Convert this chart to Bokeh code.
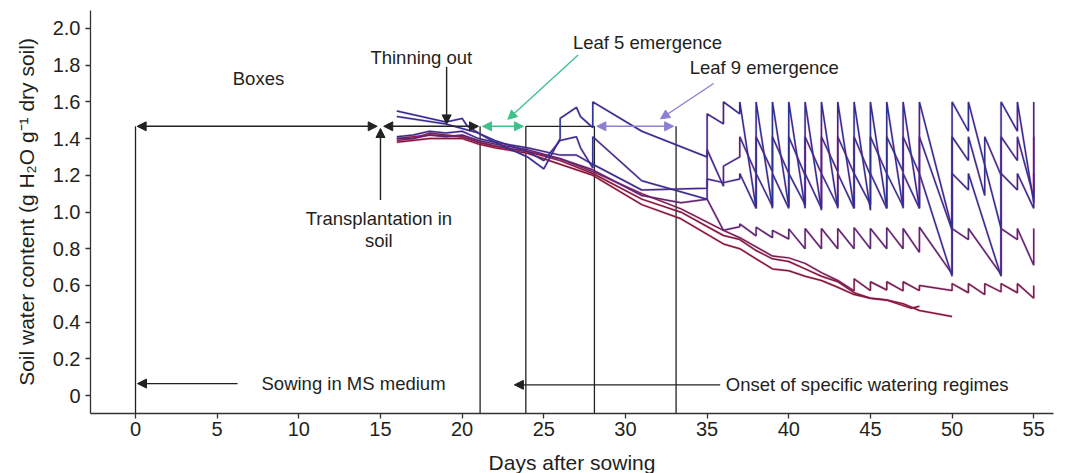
from bokeh.plotting import figure
from bokeh.models import Arrow, NormalHead, Label, FixedTicker, Range1d
from bokeh.embed import file_html
from bokeh.resources import INLINE

# ---------------- data ----------------
x_ticks = [0, 5, 10, 15, 20, 25, 30, 35, 40, 45, 50, 55]
y_ticks = [0, 0.2, 0.4, 0.6, 0.8, 1.0, 1.2, 1.4, 1.6, 1.8, 2.0]
y_tick_labels = ["0", "0.2", "0.4", "0.6", "0.8", "1.0", "1.2", "1.4", "1.6", "1.8", "2.0"]

s1_day = [16, 19, 20, 20.3, 21, 22, 24, 25, 26, 26, 27, 27.25, 28, 28, 31, 35, 35, 36, 36, 37, 37,
          38, 38, 39, 39, 40, 40, 41, 41, 42, 42, 43, 43, 44, 44, 45, 45, 46, 46, 47, 47, 48, 48,
          50, 50, 51, 51, 53, 53, 54, 54, 55, 55]
s1_swc = [1.55, 1.49, 1.51, 1.47, 1.43, 1.38, 1.30, 1.235, 1.40, 1.51, 1.57, 1.52, 1.46, 1.60, 1.44, 1.30, 1.535, 1.48, 1.60, 1.535, 1.60,
          1.02, 1.60, 1.02, 1.60, 1.03, 1.60, 1.02, 1.60, 1.01, 1.60, 1.02, 1.60, 1.02, 1.60, 1.01, 1.60, 1.02, 1.60, 1.02, 1.60, 1.02, 1.60,
          0.91, 1.60, 1.44, 1.60, 0.91, 1.60, 1.44, 1.60, 1.05, 1.60]

s2_day = [16, 19, 21, 22, 24, 25, 26, 27, 27.25, 28, 28, 31, 35, 35, 36, 37, 37,
          38, 38, 39, 39, 40, 40, 41, 41, 42, 42, 43, 43, 44, 44, 45, 45, 46, 46, 47, 47, 48, 48,
          50, 50, 51, 51, 53, 53, 54, 54, 55, 55]
s2_swc = [1.52, 1.48, 1.43, 1.39, 1.33, 1.28, 1.39, 1.41, 1.35, 1.24, 1.41, 1.17, 1.07, 1.18, 1.16, 1.18, 1.21,
          1.02, 1.21, 1.03, 1.21, 1.02, 1.21, 1.04, 1.21, 1.02, 1.21, 1.03, 1.21, 1.02, 1.21, 1.04, 1.21, 1.02, 1.21, 1.03, 1.21, 1.02, 1.21,
          0.65, 1.21, 1.12, 1.21, 0.65, 1.21, 1.12, 1.21, 1.02, 1.21]

s3_day = [16, 17, 18, 19, 20, 21, 22, 24, 26, 27, 28, 31, 35, 35, 36, 36, 37, 37,
          38, 38, 39, 39, 40, 40, 41, 41, 42, 42, 43, 43, 44, 44, 45, 45, 46, 46, 47, 47, 48, 48,
          50, 50, 51, 51, 52, 52, 53, 53, 54, 54, 55, 55]
s3_swc = [1.41, 1.42, 1.44, 1.43, 1.44, 1.40, 1.38, 1.35, 1.31, 1.31, 1.26, 1.12, 1.13, 1.34, 1.14, 1.25, 1.30, 1.41,
          1.21, 1.41, 1.22, 1.41, 1.21, 1.41, 1.20, 1.41, 1.21, 1.41, 1.22, 1.41, 1.21, 1.41, 1.20, 1.41, 1.21, 1.41, 1.22, 1.41, 1.21, 1.41,
          0.90, 1.41, 1.28, 1.41, 1.09, 1.41, 1.20, 1.41, 1.28, 1.41, 1.08, 1.41]

s4_day = [16, 17, 18, 19, 20, 21, 22, 24, 26, 28, 31, 33.4, 35, 36, 37, 37,
          38, 38, 39, 39, 40, 40, 41, 41, 42, 42, 43, 43, 44, 44, 45, 45, 46, 46, 47, 47, 48, 48,
          50, 50, 51, 51, 53, 53, 54, 54, 55, 55]
s4_swc = [1.40, 1.40, 1.42, 1.41, 1.42, 1.39, 1.37, 1.34, 1.29, 1.23, 1.09, 1.05, 1.07, 0.90, 0.92, 0.935,
          0.87, 0.917, 0.86, 0.90, 0.853, 0.908, 0.80, 0.91, 0.80, 0.91, 0.80, 0.91, 0.80, 0.915, 0.80, 0.91, 0.80, 0.915, 0.80, 0.91, 0.78, 0.917,
          0.663, 0.91, 0.85, 0.91, 0.66, 0.91, 0.85, 0.91, 0.71, 0.91]

s5_day = [16, 17, 18, 19, 20, 21, 22, 24, 26, 28, 31, 33.4, 36, 37, 38, 39, 40, 41, 42, 43,
          44, 44, 45, 45, 46, 46, 47, 47, 48, 48, 50, 50, 51, 51, 52, 52, 53, 53, 54, 54, 55, 55]
s5_swc = [1.39, 1.40, 1.43, 1.42, 1.41, 1.38, 1.36, 1.33, 1.29, 1.22, 1.10, 1.017, 0.90, 0.86, 0.81, 0.76, 0.75, 0.72, 0.67, 0.627,
          0.57, 0.636, 0.572, 0.62, 0.575, 0.62, 0.57, 0.62, 0.572, 0.60, 0.572, 0.61, 0.56, 0.61, 0.55, 0.61, 0.565, 0.61, 0.56, 0.61, 0.53, 0.60]

s6_day = [16, 17, 18, 20, 21, 22, 24, 26, 28, 31, 33.4, 36, 37, 38, 39, 40, 41, 42, 43, 44, 45, 46, 47, 47.5, 48]
s6_swc = [1.40, 1.41, 1.42, 1.41, 1.38, 1.36, 1.33, 1.28, 1.21, 1.07, 0.999, 0.872, 0.85, 0.79, 0.745, 0.73, 0.69, 0.65, 0.62, 0.56, 0.53, 0.52, 0.49, 0.475, 0.486]

s7_day = [16, 18, 20, 21, 22, 24, 26, 28, 31, 33.4, 36, 37, 38, 39, 40, 41, 42, 43, 44, 45, 46, 47, 48, 50]
s7_swc = [1.38, 1.40, 1.40, 1.37, 1.35, 1.32, 1.26, 1.20, 1.04, 0.963, 0.826, 0.80, 0.745, 0.69, 0.68, 0.65, 0.627, 0.59, 0.55, 0.53, 0.52, 0.50, 0.463, 0.43]

series = [
    (s7_day, s7_swc, "#861733"),
    (s6_day, s6_swc, "#7E1A3C"),
    (s5_day, s5_swc, "#72204E"),
    (s4_day, s4_swc, "#582772"),
    (s3_day, s3_swc, "#33318C"),
    (s2_day, s2_swc, "#2D3290"),
    (s1_day, s1_swc, "#2A3192"),
]

# stage markers (days) and level of the phase line
stage_days = [0, 21.1, 23.9, 28.1, 33.1]
phase_level = 1.467

FONT = "Liberation Sans"
TXT = "#231F20"
AX = "#333333"

p = figure(frame_width=963, frame_height=403,
           x_range=Range1d(-2.756, 56.21), y_range=Range1d(-0.098, 2.098),
           min_border_left=90, min_border_right=18, min_border_top=10, min_border_bottom=60,
           output_backend="svg", toolbar_location=None)
p.outline_line_color = None
p.xgrid.visible = False
p.ygrid.visible = False
p.background_fill_color = "white"
p.border_fill_color = "white"

# axes
p.xaxis.ticker = FixedTicker(ticks=x_ticks)
p.yaxis.ticker = FixedTicker(ticks=y_ticks)
p.yaxis.major_label_overrides = {t: l for t, l in zip(y_ticks, y_tick_labels)}
for ax in (p.xaxis[0], p.yaxis[0]):
    ax.axis_line_color = AX
    ax.axis_line_width = 1.3
    ax.major_tick_line_color = AX
    ax.major_tick_line_width = 1.3
    ax.major_tick_out = 5
    ax.major_tick_in = 0
    ax.minor_tick_line_color = None
    ax.major_label_text_font = FONT
    ax.major_label_text_font_size = "20px"
    ax.major_label_text_color = TXT
    ax.axis_label_text_font = FONT
    ax.axis_label_text_font_size = "21px"
    ax.axis_label_text_font_style = "normal"
    ax.axis_label_text_color = TXT
p.xaxis.axis_label = "Days after sowing"
p.yaxis.axis_label = "Soil water content (g H\u2082O g\u207b\u00b9 dry soil)"
p.xaxis.major_label_standoff = 3
p.xaxis.axis_label_standoff = 12
p.yaxis.major_label_standoff = 5
p.yaxis.axis_label_standoff = 12

# stage lines
for d in stage_days:
    p.segment(x0=[d], y0=[phase_level], x1=[d], y1=[-0.098], line_color="#222222", line_width=1.3)
p.segment(x0=[stage_days[2]], y0=[phase_level], x1=[stage_days[3]], y1=[phase_level],
          line_color="#222222", line_width=1.3)

def darrow(x0, x1, y, color):
    p.add_layout(Arrow(start=NormalHead(size=9, fill_color=color, line_color=color),
                       end=NormalHead(size=9, fill_color=color, line_color=color),
                       x_start=x0, y_start=y, x_end=x1, y_end=y,
                       line_color=color, line_width=1.4))

def sarrow(x0, y0, x1, y1, color):
    p.add_layout(Arrow(end=NormalHead(size=9, fill_color=color, line_color=color),
                       x_start=x0, y_start=y0, x_end=x1, y_end=y1,
                       line_color=color, line_width=1.4))

GREEN = "#3EC08B"
LILAC = "#8C80D2"
darrow(0.1, 14.8, phase_level, "#222222")
darrow(15.2, 21.0, phase_level, "#222222")
darrow(21.25, 23.75, phase_level, GREEN)
darrow(28.25, 32.95, phase_level, LILAC)

# series
for xs, ys, c in series:
    p.line(xs, ys, line_color="#D0308A", line_width=2.6, line_alpha=0.25)
    p.line(xs, ys, line_color=c, line_width=1.5)

# annotation arrows
sarrow(19.05, 1.79, 19.05, 1.48, "#222222")
sarrow(15.0, 1.065, 15.0, 1.455, "#222222")
sarrow(27.1, 1.855, 22.8, 1.505, GREEN)
sarrow(35.4, 1.70, 32.15, 1.508, LILAC)
sarrow(6.25, 0.065, 0.12, 0.065, "#222222")
sarrow(35.8, 0.058, 23.2, 0.058, "#222222")

def label(x, y, t, align="center"):
    p.add_layout(Label(x=x, y=y, text=t, text_font=FONT, text_font_size="18.5px",
                       text_color=TXT, text_align=align, text_baseline="middle"))

label(7.53, 1.727, "Boxes")
label(17.5, 1.842, "Thinning out")
label(14.9, 0.965, "Transplantation in")
label(14.9, 0.845, "soil")
label(13.35, 0.065, "Sowing in MS medium")
label(31.35, 1.924, "Leaf 5 emergence")
label(38.5, 1.787, "Leaf 9 emergence")
label(44.8, 0.058, "Onset of specific watering regimes")

open("out.html", "w").write(file_html(p, INLINE))
